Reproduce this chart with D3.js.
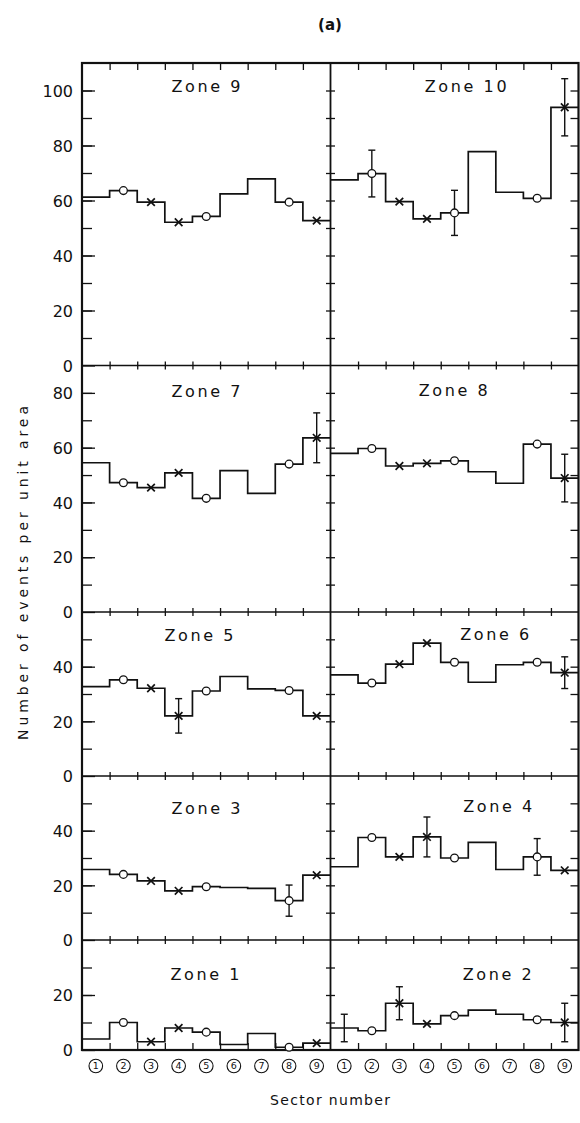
<!DOCTYPE html>
<html>
<head>
<meta charset="utf-8">
<script src="https://cdn.jsdelivr.net/npm/d3@7"></script>
<style>
  body { margin: 0; background: #fff; }
  text { font-family: "DejaVu Sans", sans-serif; fill: #111; }
</style>
</head>
<body>
<svg id="chart" width="580" height="1123"></svg>
<script>
// Sector numbers along the bottom of every panel
const sectors = [1, 2, 3, 4, 5, 6, 7, 8, 9];
// Symbol drawn on each sector's step ("o" open circle, "x" cross)
const markerKinds = [null, "o", "x", "x", "o", null, null, "o", "x"];

// Number of events per unit area, sectors 1..9
const zone9  = [61.2, 63.6, 59.4, 52.1, 54.2, 62.4, 67.9, 59.4, 52.7];
const zone10 = [67.5, 69.8, 59.6, 53.3, 55.5, 77.8, 63.0, 60.8, 93.9];
const zone7  = [54.5, 47.2, 45.4, 50.8, 41.5, 51.6, 43.3, 54.0, 63.6];
const zone8  = [57.9, 59.7, 53.3, 54.3, 55.2, 51.2, 47.0, 61.3, 48.9];
const zone5  = [32.7, 35.2, 32.1, 22.0, 31.1, 36.4, 31.9, 31.3, 22.0];
const zone6  = [37.0, 34.0, 40.9, 48.6, 41.6, 34.3, 40.7, 41.6, 37.8];
const zone3  = [25.8, 24.0, 21.6, 18.0, 19.5, 19.2, 18.9, 14.4, 23.7];
const zone4  = [26.8, 37.5, 30.4, 37.7, 30.0, 35.7, 25.8, 30.4, 25.5];
const zone1  = [4.0, 10.0, 3.0, 8.0, 6.5, 2.0, 6.0, 1.0, 2.5];
const zone2  = [8.0, 7.0, 17.0, 9.5, 12.5, 14.5, 13.0, 11.0, 10.0];

// Half-length of the error bars (null = no bar)
const zone9Err  = [null, null, null, null, null, null, null, null, null];
const zone10Err = [null, 8.5, null, null, 8.2, null, null, null, 10.4];
const zone7Err  = [null, null, null, null, null, null, null, null, 9.1];
const zone8Err  = [null, null, null, null, null, null, null, null, 8.7];
const zone5Err  = [null, null, null, 6.3, null, null, null, null, null];
const zone6Err  = [null, null, null, null, null, null, null, null, 5.8];
const zone3Err  = [null, null, null, null, null, null, null, 5.7, null];
const zone4Err  = [null, null, null, 7.3, null, null, null, 6.7, null];
const zone1Err  = [null, null, null, null, null, null, null, null, null];
const zone2Err  = [5.0, null, 6.0, null, null, null, null, null, 7.0];

// Upper end of the y axis in each row of panels (top to bottom)
const rowMax = [110, 90, 60, 60, 40];

// ---- layout ----
const colX = [82, 330.5, 578.5];
const rowY = [63, 365.5, 612, 776, 940, 1050];
const grid = [
  [{ name: "Zone 9", v: zone9, e: zone9Err, dx: 1, dy: 29 },
   { name: "Zone 10", v: zone10, e: zone10Err, dx: 12.5, dy: 29 }],
  [{ name: "Zone 7", v: zone7, e: zone7Err, dx: 1, dy: 31.5 },
   { name: "Zone 8", v: zone8, e: zone8Err, dx: 0, dy: 30 }],
  [{ name: "Zone 5", v: zone5, e: zone5Err, dx: -6, dy: 29 },
   { name: "Zone 6", v: zone6, e: zone6Err, dx: 41.5, dy: 28 }],
  [{ name: "Zone 3", v: zone3, e: zone3Err, dx: 1, dy: 38 },
   { name: "Zone 4", v: zone4, e: zone4Err, dx: 44.5, dy: 36 }],
  [{ name: "Zone 1", v: zone1, e: zone1Err, dx: 0, dy: 40 },
   { name: "Zone 2", v: zone2, e: zone2Err, dx: 44, dy: 40 }]
];

const svg = d3.select("#chart");
const ink = "#111";

const xScales = [0, 1].map(c =>
  d3.scaleBand().domain(sectors).range([colX[c], colX[c + 1]]).paddingInner(0).paddingOuter(0));
const xLin = [0, 1].map(c => d3.scaleLinear().domain([0, 9]).range([colX[c], colX[c + 1]]));
const yScales = rowMax.map((m, r) => d3.scaleLinear().domain([0, m]).range([rowY[r + 1], rowY[r]]));

const noDomain = g => { g.select(".domain").remove(); g.selectAll("line").attr("stroke", ink).attr("stroke-width", 1.3); };

// ---- y ticks ----
yScales.forEach((y, r) => {
  const m = rowMax[r];
  const minor = d3.range(10, m, 10).filter(t => t % 20 !== 0);
  const major = d3.range(0, m, 20);
  // outer left axis: labelled ticks
  svg.append("g").attr("transform", `translate(${colX[0]},0)`)
    .call(d3.axisLeft(y).tickValues(major).tickSizeInner(-13).tickSizeOuter(0).tickPadding(9).tickFormat(d3.format("d")))
    .call(noDomain)
    .call(g => g.selectAll("text").attr("font-size", 16).attr("fill", ink)
      .attr("font-family", "DejaVu Sans, sans-serif").attr("dy", "0.36em"));
  svg.append("g").attr("transform", `translate(${colX[0]},0)`)
    .call(d3.axisLeft(y).tickValues(minor.concat(major.filter(t => t > 0))).tickSize(-10).tickFormat(""))
    .call(noDomain);
  // centre divider: ticks on both sides
  [d3.axisLeft, d3.axisRight].forEach(ax => {
    svg.append("g").attr("transform", `translate(${colX[1]},0)`)
      .call(ax(y).tickValues(d3.range(10, m, 10)).tickSize(4.5).tickFormat(""))
      .call(noDomain);
  });
  // right edge: ticks pointing inward
  svg.append("g").attr("transform", `translate(${colX[2]},0)`)
    .call(d3.axisLeft(y).tickValues(d3.range(10, m, 10)).tickSize(8).tickFormat(""))
    .call(noDomain);
});

// ---- x ticks at sector boundaries ----
const bounds = d3.range(1, 9);
[0, 1].forEach(c => {
  const x = xLin[c];
  svg.append("g").attr("transform", `translate(0,${rowY[0]})`)
    .call(d3.axisTop(x).tickValues(bounds).tickSize(-7).tickFormat("")).call(noDomain);
  rowY.slice(1, -1).forEach(yy => {
    [d3.axisTop, d3.axisBottom].forEach(ax => {
      svg.append("g").attr("transform", `translate(0,${yy})`)
        .call(ax(x).tickValues(bounds).tickSize(4).tickFormat("")).call(noDomain);
    });
  });
  svg.append("g").attr("transform", `translate(0,${rowY[5]})`)
    .call(d3.axisBottom(x).tickValues(bounds).tickSize(-7).tickFormat("")).call(noDomain);
});

// ---- frame ----
svg.append("rect")
  .attr("x", colX[0]).attr("y", rowY[0])
  .attr("width", colX[2] - colX[0]).attr("height", rowY[5] - rowY[0])
  .attr("fill", "none").attr("stroke", ink).attr("stroke-width", 2.2);
svg.append("line").attr("x1", colX[1]).attr("x2", colX[1]).attr("y1", rowY[0]).attr("y2", rowY[5])
  .attr("stroke", ink).attr("stroke-width", 1.8);
rowY.slice(1, -1).forEach(yy => {
  svg.append("line").attr("x1", colX[0]).attr("x2", colX[2]).attr("y1", yy).attr("y2", yy)
    .attr("stroke", ink).attr("stroke-width", 1.6);
});

// ---- panels ----
const line = d3.line();
grid.forEach((row, r) => {
  const y = yScales[r];
  row.forEach((p, c) => {
    const x = xScales[c];
    const bw = x.bandwidth();
    const g = svg.append("g");
    const pts = p.v.flatMap((v, i) => [[x(sectors[i]), y(v)], [x(sectors[i]) + bw, y(v)]]);
    g.append("path").attr("d", line(pts)).attr("fill", "none")
      .attr("stroke", ink).attr("stroke-width", 1.7).attr("stroke-linejoin", "miter");

    // error bars
    p.v.forEach((v, i) => {
      const e = p.e[i];
      if (e == null) return;
      const cx = x(sectors[i]) + bw / 2;
      g.append("line").attr("x1", cx).attr("x2", cx).attr("y1", y(v + e)).attr("y2", y(v - e))
        .attr("stroke", ink).attr("stroke-width", 1.4);
      [v + e, v - e].forEach(yy => {
        g.append("line").attr("x1", cx - 3.5).attr("x2", cx + 3.5).attr("y1", y(yy)).attr("y2", y(yy))
          .attr("stroke", ink).attr("stroke-width", 1.4);
      });
    });

    // markers
    p.v.forEach((v, i) => {
      const kind = markerKinds[i];
      if (!kind) return;
      const cx = x(sectors[i]) + bw / 2, cy = y(v);
      if (kind === "o") {
        g.append("circle").attr("cx", cx).attr("cy", cy).attr("r", 3.9)
          .attr("fill", "#fff").attr("stroke", ink).attr("stroke-width", 1.3);
      } else {
        const s = 3.8;
        g.append("path").attr("d", `M${cx - s},${cy - s}L${cx + s},${cy + s}M${cx - s},${cy + s}L${cx + s},${cy - s}`)
          .attr("stroke", ink).attr("stroke-width", 1.7).attr("fill", "none");
      }
    });

    // zone label
    g.append("text")
      .attr("x", (colX[c] + colX[c + 1]) / 2 + p.dx)
      .attr("y", rowY[r] + p.dy)
      .attr("text-anchor", "middle")
      .attr("font-size", 16)
      .attr("letter-spacing", 2.6)
      .text(p.name);
  });
});

// ---- circled sector numbers ----
[0, 1].forEach(c => {
  const x = xScales[c];
  const bw = x.bandwidth();
  const g = svg.append("g");
  sectors.forEach(s => {
    const cx = x(s) + bw / 2, cy = 1066;
    g.append("circle").attr("cx", cx).attr("cy", cy).attr("r", 6.8)
      .attr("fill", "none").attr("stroke", ink).attr("stroke-width", 1.1);
    g.append("text").attr("x", cx).attr("y", cy).attr("dy", "0.35em")
      .attr("text-anchor", "middle").attr("font-size", 9.5).text(s);
  });
});

// ---- titles ----
svg.append("text").attr("x", 330).attr("y", 30).attr("text-anchor", "middle")
  .attr("font-size", 15).attr("font-weight", "bold").text("(a)");

svg.append("text").attr("x", 330).attr("y", 1105).attr("text-anchor", "middle")
  .attr("font-size", 14).attr("textLength", 120).attr("lengthAdjust", "spacing")
  .text("Sector number");

svg.append("text")
  .attr("transform", `translate(28.3,573) rotate(-90)`)
  .attr("text-anchor", "middle")
  .attr("font-size", 14).attr("textLength", 334).attr("lengthAdjust", "spacing")
  .text("Number of events per unit area");
</script>
</body>
</html>
